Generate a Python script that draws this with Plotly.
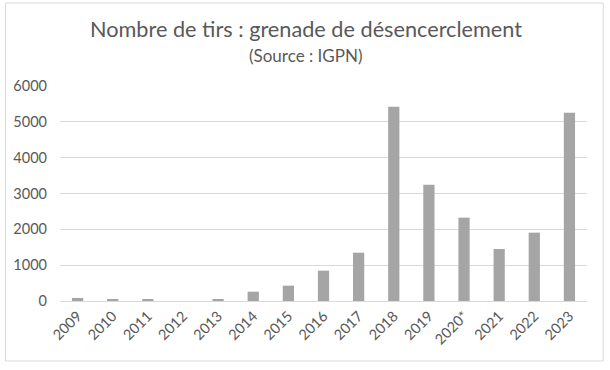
import plotly.graph_objects as go

years = ["2009", "2010", "2011", "2012", "2013", "2014", "2015", "2016",
         "2017", "2018", "2019", "2020*", "2021", "2022", "2023"]
tirs = [85, 38, 38, 0, 30, 260, 428, 847, 1349, 5423, 3247, 2326, 1451, 1907, 5256]
y_ticks = [0, 1000, 2000, 3000, 4000, 5000, 6000]

FONT = "Lato, Open Sans, sans-serif"
GREY = "#595959"

# plot area in pixels
L, R, T, B = 59.5, 586.7, 86, 301
PW, PH = R - L, B - T

fig = go.Figure(go.Bar(x=years, y=tirs, marker=dict(color="#a5a5a5", line=dict(width=0)),
                       hoverinfo="x+y"))

fig.update_layout(
    width=610, height=370,
    margin=dict(l=L, r=610 - R, t=T, b=370 - B, autoexpand=False),
    paper_bgcolor="white", plot_bgcolor="white",
    bargap=0.68,
    showlegend=False,
    font=dict(family=FONT, color=GREY, size=14),
    title=dict(text="Nombre de tirs : grenade de désencerclement",
               x=306 / 610, xref="container", xanchor="center", y=1 - 29.5 / 370, yanchor="middle",
               font=dict(family=FONT, size=21.7, color=GREY)),
    annotations=[dict(text="(Source : IGPN)", x=(305 - L) / PW, xref="paper", y=(B - 56) / PH,
                      yref="paper", xanchor="center", yanchor="middle",
                      showarrow=False, font=dict(family=FONT, size=17, color=GREY))],
    shapes=[dict(type="rect", xref="paper", yref="paper",
                 x0=(5 - L) / PW, x1=(603 - L) / PW,
                 y0=(B - 361) / PH, y1=(B - 3) / PH,
                 line=dict(color="#d9d9d9", width=1), fillcolor="rgba(0,0,0,0)", layer="below")],
)
fig.update_xaxes(type="category", tickangle=-45, tickfont=dict(size=14.5, color=GREY),
                 showline=True, linecolor="#d9d9d9", linewidth=1, ticks="", showgrid=False)
fig.update_yaxes(range=[0, 6000], tickvals=y_ticks, tickfont=dict(size=14.5, color=GREY),
                 showgrid=True, gridcolor="#d9d9d9", gridwidth=1, zeroline=False,
                 ticks="", ticklabelstandoff=12, showline=False)

fig.write_html("out.html", config={"displayModeBar": False},
               post_script="document.body.style.margin='0';")
